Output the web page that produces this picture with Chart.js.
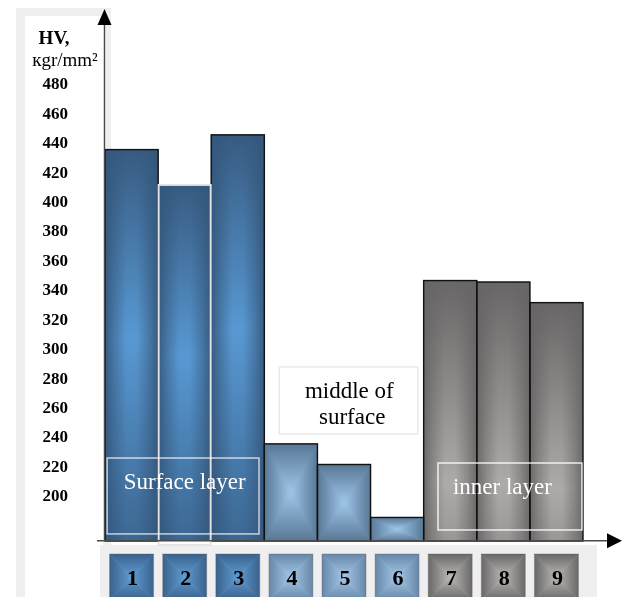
<!DOCTYPE html>
<html>
<head>
<meta charset="utf-8">
<script src="https://cdn.jsdelivr.net/npm/chart.js@4"></script>
<style>
  html, body { margin: 0; padding: 0; background: #ffffff; }
  canvas { display: block; }
</style>
</head>
<body>
<canvas id="hv" width="626" height="597"></canvas>
<script>
// Vickers hardness across the section: surface layer, middle of surface, inner layer
const categories = ['1', '2', '3', '4', '5', '6', '7', '8', '9'];
const hardness = [436, 412, 446, 236, 222, 186, 347, 346, 332];
const zoneOfSample = ['surface', 'surface', 'surface', 'middle', 'middle', 'middle', 'inner', 'inner', 'inner'];
const yTickValues = [200, 220, 240, 260, 280, 300, 320, 340, 360, 380, 400, 420, 440, 460, 480];
const axisTitle = ['HV,', 'кgr/mm²'];
const zoneTitles = {
  surface: ['Surface layer'],
  middle: ['middle of', ' surface'],
  inner: ['inner layer']
};

const SERIF = '"Liberation Serif", "Times New Roman", serif';

// Zone frames, placed in category / value units
const zoneFrames = [
  { zone: 'surface', x1: -0.46, x2: 2.40, yTop: 226.4, yBottom: 174.8,
    stroke: 'rgba(255,255,255,0.72)', fill: null, color: '#ffffff',
    align: 'center', textX: 1.0, baselines: [205.4] },
  { zone: 'middle', x1: 2.78, x2: 5.39, yTop: 288.3, yBottom: 242.7,
    stroke: '#ebebeb', fill: '#ffffff', color: '#000000',
    align: 'center', textX: 4.10, baselines: [267, 249.3] },
  { zone: 'inner', x1: 5.77, x2: 8.48, yTop: 223, yBottom: 177.5,
    stroke: 'rgba(255,255,255,0.85)', fill: null, color: '#ffffff',
    align: 'left', textX: 6.05, baselines: [202] }
];

const barStyle = {
  surface: { kind: 'stripe', flat: '#416f9c', top: '#375b81', mid: '#5898d2', midStop: 0.48,
             bottom: '#3c6792', edge: '52,86,122', border: '#111111' },
  middle:  { kind: 'box', flat: '#7596b6', edge: '#587795', centre: '#9fc6ea', border: '#111111' },
  inner:   { kind: 'stripe', flat: '#7e7b7a', top: '#686666', mid: '#aeaaa8', midStop: 0.78,
             bottom: '#9a9695', edge: '102,100,100', border: '#111111' }
};
const tileStyle = {
  surface: { edge: '#3a628c', centre: '#5f9bd2' },
  middle:  { edge: '#6787a8', centre: '#a3c7e8' },
  inner:   { edge: '#6a6868', centre: '#bab6b4' }
};

function stripeFill(ctx, l, t, w, h, s) {
  const v = ctx.createLinearGradient(0, t, 0, t + h);
  v.addColorStop(0, s.top);
  v.addColorStop(s.midStop, s.mid);
  v.addColorStop(1, s.bottom);
  ctx.fillStyle = v;
  ctx.fillRect(l, t, w, h);
  const e = ctx.createLinearGradient(l, 0, l + w, 0);
  e.addColorStop(0, `rgba(${s.edge},0.92)`);
  e.addColorStop(0.18, `rgba(${s.edge},0.45)`);
  e.addColorStop(0.4, `rgba(${s.edge},0)`);
  e.addColorStop(0.6, `rgba(${s.edge},0)`);
  e.addColorStop(0.82, `rgba(${s.edge},0.45)`);
  e.addColorStop(1, `rgba(${s.edge},0.92)`);
  ctx.fillStyle = e;
  ctx.fillRect(l, t, w, h);
}

// Four-sided "box" gradient: light centre fading out to every edge
function boxFill(ctx, l, t, w, h, edge, centre) {
  const cx = l + w / 2, cy = t + h / 2, r = l + w, b = t + h;
  const parts = [
    [[l, t], [r, t], [cx, t, cx, cy]],
    [[r, t], [r, b], [r, cy, cx, cy]],
    [[r, b], [l, b], [cx, b, cx, cy]],
    [[l, b], [l, t], [l, cy, cx, cy]]
  ];
  ctx.save();
  ctx.beginPath();
  ctx.rect(l, t, w, h);
  ctx.clip();
  for (const [p1, p2, g] of parts) {
    const grad = ctx.createLinearGradient(g[0], g[1], g[2], g[3]);
    grad.addColorStop(0, edge);
    grad.addColorStop(1, centre);
    ctx.beginPath();
    ctx.moveTo(p1[0], p1[1]);
    ctx.lineTo(p2[0], p2[1]);
    ctx.lineTo(cx, cy);
    ctx.closePath();
    ctx.fillStyle = grad;
    ctx.fill();
    ctx.strokeStyle = grad;
    ctx.lineWidth = 0.6;
    ctx.stroke();
  }
  ctx.restore();
}

const decorations = {
  id: 'decorations',
  beforeDraw(chart) {
    const ctx = chart.ctx;
    ctx.save();
    // light frame around the value axis
    ctx.fillStyle = '#efefef';
    ctx.fillRect(16, 8, 95, 589);
    ctx.fillStyle = '#ffffff';
    ctx.fillRect(25, 16, 78, 581);
    // band under the horizontal axis
    ctx.fillStyle = '#efefef';
    ctx.fillRect(100, 545, 497, 52);
    ctx.restore();
  },
  afterDatasetsDraw(chart) {
    const ctx = chart.ctx;
    const xs = chart.scales.x, ys = chart.scales.y;
    const area = chart.chartArea;
    const bars = chart.getDatasetMeta(0).data;
    const rectOf = el => {
      const bottom = Math.min(el.base, area.bottom);
      return { l: el.x - el.width / 2, t: el.y, w: el.width, h: bottom - el.y };
    };

    // shading of each bar
    bars.forEach((el, i) => {
      const s = barStyle[zoneOfSample[i]];
      const r = rectOf(el);
      if (s.kind === 'stripe') stripeFill(ctx, r.l, r.t, r.w, r.h, s);
      else boxFill(ctx, r.l, r.t, r.w, r.h, s.edge, s.centre);
    });
    // outlines: dark ones first, the light-edged sample on top
    ctx.save();
    bars.forEach((el, i) => {
      if (i === 1) return;
      const r = rectOf(el);
      ctx.strokeStyle = barStyle[zoneOfSample[i]].border;
      ctx.lineWidth = 1.4;
      ctx.strokeRect(r.l, r.t, r.w, r.h);
    });
    const r2 = rectOf(bars[1]);
    ctx.strokeStyle = '#e4e4e4';
    ctx.lineWidth = 2;
    ctx.strokeRect(r2.l + 0.5, r2.t, r2.w - 1, r2.h + 4);
    ctx.restore();

    // zone frames and titles
    ctx.save();
    zoneFrames.forEach(f => {
      const x1 = xs.getPixelForValue(f.x1), x2 = xs.getPixelForValue(f.x2);
      const y1 = ys.getPixelForValue(f.yTop), y2 = ys.getPixelForValue(f.yBottom);
      if (f.fill) { ctx.fillStyle = f.fill; ctx.fillRect(x1, y1, x2 - x1, y2 - y1); }
      ctx.strokeStyle = f.stroke;
      ctx.lineWidth = 1.5;
      ctx.strokeRect(x1, y1, x2 - x1, y2 - y1);
      ctx.fillStyle = f.color;
      ctx.font = `23px ${SERIF}`;
      ctx.textAlign = f.align;
      ctx.textBaseline = 'alphabetic';
      const tx = xs.getPixelForValue(f.textX);
      zoneTitles[f.zone].forEach((line, k) => {
        ctx.fillText(line, tx, ys.getPixelForValue(f.baselines[k]));
      });
    });
    ctx.restore();

    // axes with arrow heads
    ctx.save();
    ctx.strokeStyle = '#4a4a4a';
    ctx.fillStyle = '#000000';
    ctx.lineWidth = 1.3;
    const ax = area.left - 0.5;
    ctx.beginPath();
    ctx.moveTo(ax, area.bottom);
    ctx.lineTo(ax, 24);
    ctx.stroke();
    ctx.beginPath();
    ctx.moveTo(ax, 9);
    ctx.lineTo(ax - 7, 25);
    ctx.lineTo(ax + 7, 25);
    ctx.closePath();
    ctx.fill();
    const ay = area.bottom - 0.3;
    ctx.lineWidth = 1.5;
    ctx.beginPath();
    ctx.moveTo(97, ay);
    ctx.lineTo(609, ay);
    ctx.stroke();
    ctx.beginPath();
    ctx.moveTo(622, ay);
    ctx.lineTo(607, ay - 7.5);
    ctx.lineTo(607, ay + 7.5);
    ctx.closePath();
    ctx.fill();
    ctx.restore();

    // numbered sample tiles under the axis
    ctx.save();
    categories.forEach((label, i) => {
      const cx = xs.getPixelForValue(i);
      const ts = tileStyle[zoneOfSample[i]];
      boxFill(ctx, cx - 22, 554, 44, 46, ts.edge, ts.centre);
      ctx.strokeStyle = 'rgba(90,90,90,0.35)';
      ctx.lineWidth = 1;
      ctx.strokeRect(cx - 22, 554, 44, 46);
      ctx.fillStyle = '#000000';
      ctx.font = `bold 22px ${SERIF}`;
      ctx.textAlign = 'center';
      ctx.textBaseline = 'alphabetic';
      ctx.fillText(label, cx + 1, 585);
    });
    ctx.restore();

    // value axis title
    ctx.save();
    ctx.fillStyle = '#000000';
    ctx.textAlign = 'center';
    ctx.textBaseline = 'alphabetic';
    ctx.font = `bold 19px ${SERIF}`;
    ctx.fillText(axisTitle[0], 54, 44);
    ctx.font = `19px ${SERIF}`;
    ctx.fillText(axisTitle[1], 65, 66);
    ctx.restore();
  }
};

new Chart(document.getElementById('hv'), {
  type: 'bar',
  data: {
    labels: categories,
    datasets: [{
      label: 'HV',
      data: hardness,
      backgroundColor: zoneOfSample.map(z => barStyle[z].flat),
      borderWidth: 0,
      barPercentage: 1,
      categoryPercentage: 1
    }]
  },
  options: {
    responsive: false,
    animation: false,
    devicePixelRatio: 1,
    layout: { padding: { left: 0, top: 26, right: 43, bottom: 56 } },
    plugins: {
      legend: { display: false },
      tooltip: { enabled: false },
      title: { display: false }
    },
    scales: {
      x: { display: false, offset: true },
      y: {
        min: 170,
        max: 520,
        afterFit(scale) {
          scale.width = 105;
          scale.paddingTop = 0;
          scale.paddingBottom = 0;
        },
        afterBuildTicks(scale) { scale.ticks = yTickValues.map(v => ({ value: v })); },
        grid: { display: false, drawTicks: false },
        border: { display: false },
        ticks: {
          padding: 37,
          color: '#000000',
          font: { family: SERIF, size: 17, weight: 'bold' }
        }
      }
    }
  },
  plugins: [decorations]
});
</script>
</body>
</html>
